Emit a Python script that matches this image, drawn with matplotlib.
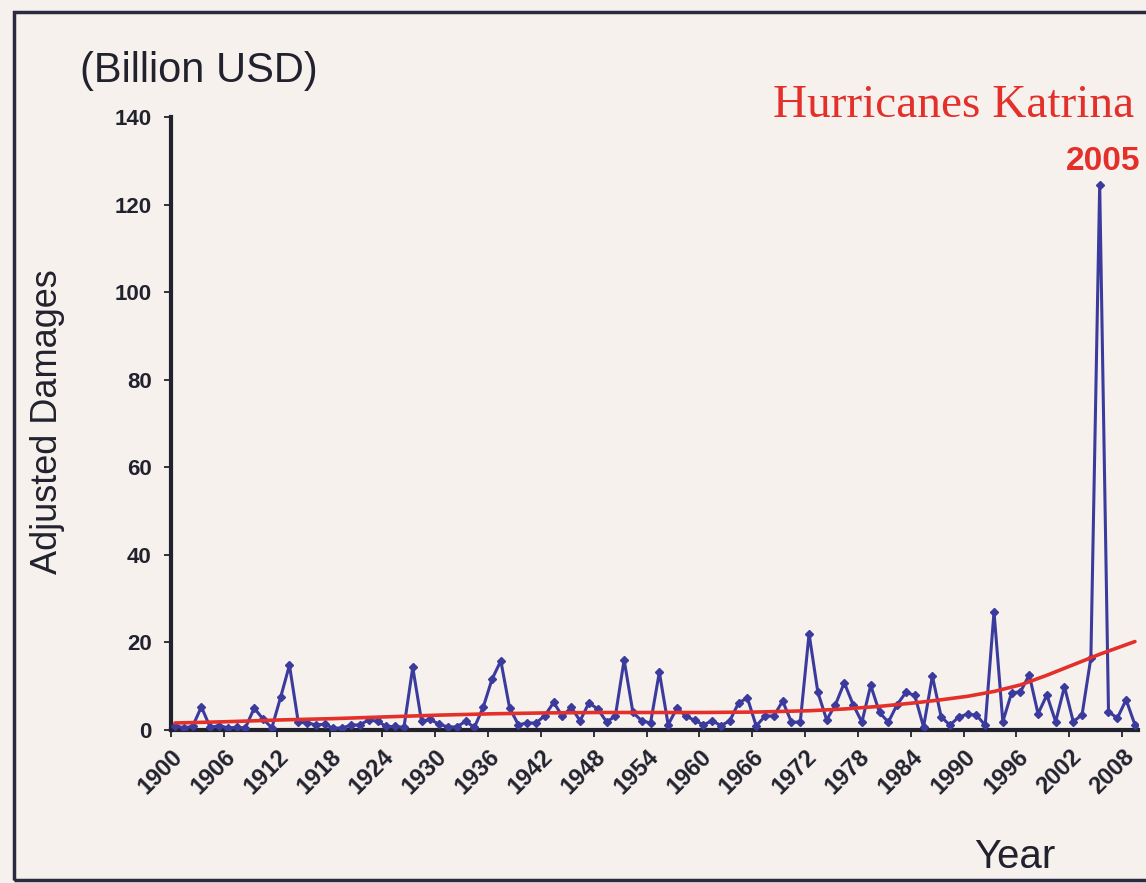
import numpy as np
import matplotlib.pyplot as plt
from matplotlib.patches import Rectangle

# adjusted hurricane damages, billion USD, one value per year 1900-2009
years = np.arange(1900, 2010)
damages = [
    1.0, 0.5, 0.8, 5.3, 0.6, 1.0, 0.5, 0.6, 0.5, 5.0,      # 1900s
    2.5, 0.5, 7.5, 14.8, 1.8, 1.6, 1.2, 1.3, 0.4, 0.5,     # 1910s
    1.1, 1.2, 2.3, 2.0, 0.8, 0.8, 0.6, 14.3, 2.0, 2.4,     # 1920s
    1.3, 0.7, 0.7, 2.0, 0.6, 5.2, 11.6, 15.8, 5.0, 1.2,    # 1930s
    1.6, 1.6, 3.3, 6.3, 3.1, 5.2, 2.1, 6.2, 4.8, 1.9,      # 1940s
    3.1, 16.0, 4.0, 2.1, 1.6, 13.2, 1.2, 5.0, 3.2, 2.2,    # 1950s
    1.2, 2.1, 1.0, 2.1, 6.2, 7.3, 0.9, 3.2, 3.2, 6.6,      # 1960s
    1.8, 1.8, 22.0, 8.6, 2.3, 5.8, 10.8, 5.8, 1.8, 10.2,   # 1970s
    4.0, 1.8, 5.8, 8.6, 7.9, 0.7, 12.3, 3.0, 1.1, 3.0,     # 1980s
    3.6, 3.4, 1.1, 27.0, 1.9, 8.5, 8.7, 12.6, 3.7, 8.0,    # 1990s
    1.9, 9.9, 1.9, 3.5, 16.5, 124.5, 4.2, 2.7, 6.9, 1.2,   # 2000s
]

# trend curve
trend_years = [1900, 1906, 1912, 1918, 1924, 1930, 1936, 1942, 1948, 1954,
               1960, 1966, 1972, 1976, 1980, 1984, 1987, 1990, 1993, 1996,
               1999, 2002, 2005, 2009]
trend_values = [1.6, 1.9, 2.3, 2.6, 3.0, 3.4, 3.7, 3.9, 4.0, 4.0,
                4.0, 4.1, 4.4, 4.8, 5.4, 6.2, 6.9, 7.7, 8.8, 10.3,
                12.5, 14.9, 17.3, 20.2]

tick_years = list(range(1900, 2009, 6))
y_ticks = list(range(0, 141, 20))

W, H = 1146, 883
bg = '#f6f1ed'
ink = '#22222f'
blue = '#3b3b9e'
red = '#e4302a'
sans = ['Liberation Sans', 'DejaVu Sans']
serif = ['Liberation Serif', 'DejaVu Serif']


def fx(px):
    return px / W


def fy(py):
    return 1 - py / H


fig = plt.figure(figsize=(W / 100, H / 100), dpi=100)
fig.patch.set_facecolor(bg)

ax = fig.add_axes([fx(171), fy(730), fx(1138) - fx(171), fy(117) - fy(730)])
ax.set_facecolor('none')

# points sit in the middle of each year slot
ax.plot(years + 0.45, damages, color=blue, lw=2.2, marker='D', ms=3.8,
        mec=blue, mfc=blue, zorder=3)
ax.plot(np.array(trend_years) + 0.45, trend_values, color=red, lw=2.6,
        solid_capstyle='round', solid_joinstyle='round', zorder=4)

ax.set_xlim(1900, 2009.8)
ax.set_ylim(0, 140)
ax.set_xticks(tick_years)
ax.set_yticks(y_ticks)
ax.set_xticklabels([str(y) for y in tick_years], rotation=45, ha='right',
                   va='top', rotation_mode='anchor', family=sans,
                   fontsize=17, fontweight='bold', color=ink)
ax.set_yticklabels([str(v) for v in y_ticks], family=sans, fontsize=16,
                   fontweight='bold', color=ink)
ax.tick_params(axis='both', direction='out', length=5, width=1.3, color=ink)
ax.tick_params(axis='x', pad=6)
ax.tick_params(axis='y', pad=9)

for side in ('top', 'right'):
    ax.spines[side].set_visible(False)
for side in ('left', 'bottom'):
    ax.spines[side].set_linewidth(3.0)
    ax.spines[side].set_color(ink)

# labels placed like on the scanned page
fig.text(fx(80), fy(82), '(Billion USD)', family=sans, fontsize=30,
         color=ink, ha='left', va='baseline')
fig.text(fx(48), fy(422), 'Adjusted Damages', family=sans, fontsize=26,
         color=ink, rotation=90, ha='center', va='center')
fig.text(fx(1015), fy(868), 'Year', family=sans, fontsize=29,
         color=ink, ha='center', va='baseline')
fig.text(fx(773), fy(117), 'Hurricanes Katrina', family=serif, fontsize=34,
         color=red, ha='left', va='baseline')
fig.text(fx(1140), fy(170), '2005', family=sans, fontsize=24,
         fontweight='bold', color=red, ha='right', va='baseline')

# page frame
fig.add_artist(Rectangle((fx(14), fy(880)), 2.0, fy(12) - fy(880),
                         transform=fig.transFigure, fill=False,
                         ec='#2a2a40', lw=2.5))

fig.savefig('out.png', dpi=100, facecolor=bg)
